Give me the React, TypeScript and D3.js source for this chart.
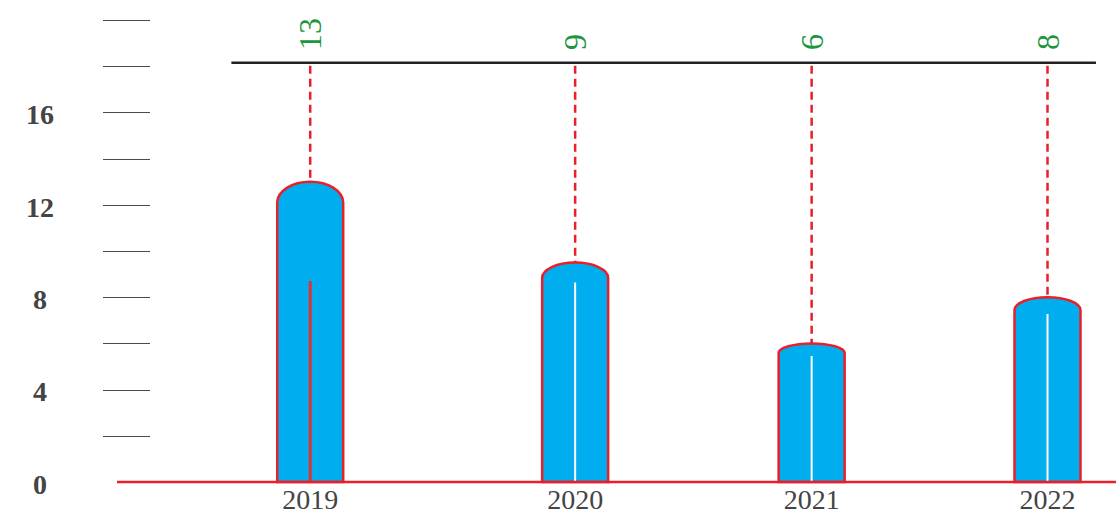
import React from "react";
import * as d3 from "d3";

const categories = ["2019", "2020", "2021", "2022"];
const categoryDates = ["2019-01-01", "2020-02-15", "2021-02-15", "2022-02-15"];
const values = [13, 9.5, 6, 8];
const valueLabels = ["13", "9", "6", "8"];
const yTicks = [0, 2, 4, 6, 8, 10, 12, 14, 16, 18, 20];
const yLabelTicks = [0, 4, 8, 12, 16];
const refLineValue = 18.15;
const refLineDates = ["2018-09-01", "2022-05-01"];
const xDomainDates = ["2018-03-08", "2022-06-01"];
const highlightLineTop = 8.7;

const W = 1116;
const H = 532;
const RED = "#e8202a";
const BLUE = "#00aeef";
const GREEN = "#1e9641";

export default function App() {
  const parse = d3.timeParse("%Y-%m-%d");
  const x = d3
    .scaleTime()
    .domain(xDomainDates.map((d) => parse(d) as Date))
    .range([117, 1116]);
  const y = d3.scaleLinear().domain([0, 20]).range([482, 20]);
  const barW = 66;
  const y0 = y(0);

  const barPath = (cx: number, v: number) => {
    const top = y(v);
    const h = y0 - top;
    const ry = h * 0.07;
    const l = cx - barW / 2;
    const r = cx + barW / 2;
    const p = d3.path();
    p.moveTo(l, y0);
    p.lineTo(l, top + ry);
    const k = 0.5523;
    p.bezierCurveTo(l, top + ry - ry * k, cx - (barW / 2) * k, top, cx, top);
    p.bezierCurveTo(cx + (barW / 2) * k, top, r, top + ry - ry * k, r, top + ry);
    p.lineTo(r, y0);
    p.closePath();
    return p.toString();
  };

  return (
    <svg
      width={W}
      height={H}
      style={{ position: "absolute", left: 0, top: 0, background: "#fff" }}
    >
      {yTicks
        .filter((t) => t > 0)
        .map((t) => (
          <line
            key={"t" + t}
            x1={103}
            x2={150}
            y1={Math.round(y(t)) + 0.5}
            y2={Math.round(y(t)) + 0.5}
            stroke="#4a4a4a"
            strokeWidth={1}
          />
        ))}
      {yLabelTicks.map((t) => (
        <text
          key={"l" + t}
          x={40}
          y={y(t) + 2}
          dy="0.35em"
          textAnchor="middle"
          fontFamily="'Liberation Serif', serif"
          fontWeight="bold"
          fontSize={28}
          fill="#444"
        >
          {t}
        </text>
      ))}

      <line
        x1={x(parse(refLineDates[0]) as Date)}
        x2={x(parse(refLineDates[1]) as Date)}
        y1={y(refLineValue)}
        y2={y(refLineValue)}
        stroke="#222"
        strokeWidth={2.5}
      />

      {categories.map((c, i) => {
        const cx = x(parse(categoryDates[i]) as Date);
        const v = values[i];
        const top = y(v);
        const h = y0 - top;
        const ry = h * 0.07;
        const highlight = i === 0;
        return (
          <g key={c}>
            <line
              x1={cx}
              x2={cx}
              y1={y(refLineValue) + 3}
              y2={top}
              stroke={RED}
              strokeWidth={2.5}
              strokeDasharray="8,5"
            />
            <path d={barPath(cx, v)} fill={BLUE} stroke={RED} strokeWidth={2.5} />
            <line
              x1={cx}
              x2={cx}
              y1={highlight ? y(highlightLineTop) : top + ry * 1.3}
              y2={y0}
              stroke={highlight ? "#e03038" : "#fff"}
              strokeWidth={highlight ? 3 : 2}
            />
            <text
              transform={`translate(${cx},50) rotate(-90)`}
              dy="0.35em"
              textAnchor="start"
              fontFamily="'Liberation Serif', serif"
              fontSize={32}
              fill={GREEN}
            >
              {valueLabels[i]}
            </text>
            <text
              x={cx}
              y={509}
              textAnchor="middle"
              fontFamily="'Liberation Serif', serif"
              fontSize={28}
              fill="#444"
            >
              {c}
            </text>
          </g>
        );
      })}

      <line x1={117} x2={1116} y1={y0} y2={y0} stroke={RED} strokeWidth={2.5} />
    </svg>
  );
}
